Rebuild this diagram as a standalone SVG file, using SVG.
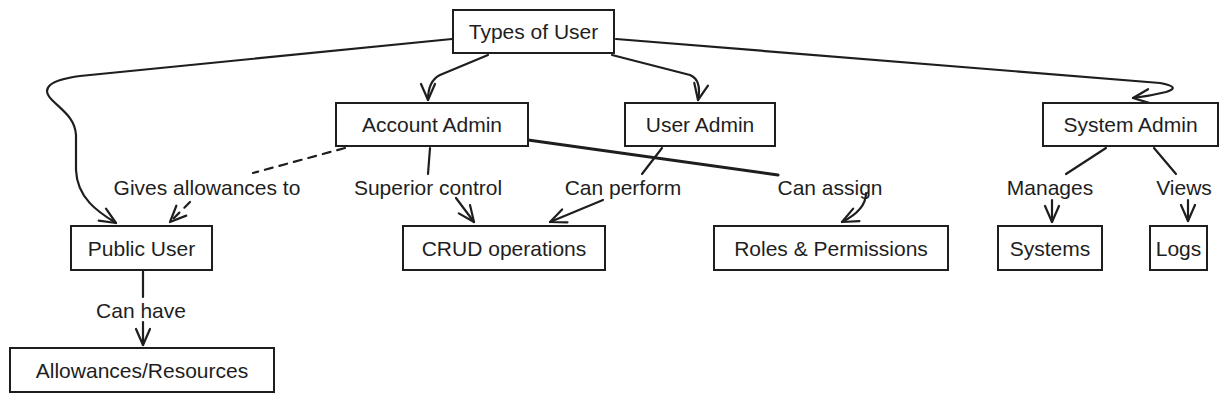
<svg xmlns="http://www.w3.org/2000/svg" width="1227" height="402" viewBox="0 0 1227 402">
<style>
.box{fill:#ffffff;stroke:#1e1e1e;stroke-width:2}
.t{font-family:"Liberation Sans",Arial,sans-serif;font-size:21px;fill:#1e1e1e;text-anchor:middle}
.c{fill:none;stroke:#1e1e1e;stroke-width:2.2;stroke-linecap:round;stroke-linejoin:round}
.d{stroke-dasharray:8 7}
</style>
<defs>
<marker id="ah" markerUnits="userSpaceOnUse" markerWidth="22" markerHeight="22" refX="18" refY="10" orient="auto" overflow="visible">
<path d="M2,3 L18,10 L2,17" fill="none" stroke="#1e1e1e" stroke-width="2.2" stroke-linecap="round" stroke-linejoin="round"/>
</marker>
</defs>
<rect width="1227" height="402" fill="#ffffff"/>
<g id="connectors">
<path class="c" d="M452,39 L80,76 C50,80 40,88 52,100 C62,110 75,118 76,135 L76,170 C77,198 98,212 116,223" marker-end="url(#ah)"/>
<path class="c" d="M488,55 L440,75 Q428,81 428,100" marker-end="url(#ah)"/>
<path class="c" d="M612,55 L690,75 Q702,80 698,100" marker-end="url(#ah)"/>
<path class="c" d="M616,39 L1160,83 Q1182,87 1166,92 Q1150,96 1133,98" marker-end="url(#ah)"/>
<path class="c d" d="M345,148 L253,173"/>
<path class="c d" d="M190,202 L170,222" marker-end="url(#ah)"/>
<path class="c" d="M430,148 L428,174"/>
<path class="c" d="M456,198 L474,222" marker-end="url(#ah)"/>
<path class="c" d="M662,148 L642,174"/>
<path class="c" d="M603,200 L550,222" marker-end="url(#ah)"/>
<path class="c" style="stroke-width:3" d="M528,140 L778,175"/>
<path class="c" d="M866,193 C866,205 856,215 842,222" marker-end="url(#ah)"/>
<path class="c" d="M1106,148 L1066,174"/>
<path class="c" d="M1052,200 L1052,222" marker-end="url(#ah)"/>
<path class="c" d="M1154,148 L1176,174"/>
<path class="c" d="M1188,200 L1188,221" marker-end="url(#ah)"/>
<path class="c" d="M143,271 L143,297"/>
<path class="c" d="M143,322 L143,345" marker-end="url(#ah)"/>
<text class="t" x="207" y="194.5">Gives allowances to</text>
<text class="t" x="428" y="194.5">Superior control</text>
<text class="t" x="623" y="194.5">Can perform</text>
<text class="t" x="830" y="194.5">Can assign</text>
<text class="t" x="1050" y="194.5">Manages</text>
<text class="t" x="1184" y="194.5">Views</text>
<text class="t" x="141" y="317.5">Can have</text>
</g>
<g id="types-of-user"><rect class="box" x="453" y="10" width="161" height="43"/><text class="t" x="533.5" y="39">Types of User</text></g>
<g id="account-admin"><rect class="box" x="336" y="103" width="192" height="43"/><text class="t" x="432" y="132">Account Admin</text></g>
<g id="user-admin"><rect class="box" x="625" y="103" width="150" height="43"/><text class="t" x="700" y="132">User Admin</text></g>
<g id="system-admin"><rect class="box" x="1043" y="103" width="175" height="43"/><text class="t" x="1130.5" y="132">System Admin</text></g>
<g id="public-user"><rect class="box" x="71" y="226" width="141" height="44"/><text class="t" x="141.5" y="255.5">Public User</text></g>
<g id="crud-operations"><rect class="box" x="403" y="226" width="202" height="44"/><text class="t" x="504" y="255.5">CRUD operations</text></g>
<g id="roles-permissions"><rect class="box" x="714" y="226" width="234" height="44"/><text class="t" x="831" y="255.5">Roles &amp; Permissions</text></g>
<g id="systems"><rect class="box" x="998" y="226" width="104" height="44"/><text class="t" x="1050" y="255.5">Systems</text></g>
<g id="logs"><rect class="box" x="1150" y="226" width="57" height="44"/><text class="t" x="1178.5" y="255.5">Logs</text></g>
<g id="allowances-resources"><rect class="box" x="10" y="348" width="264" height="44"/><text class="t" x="142" y="377.5">Allowances/Resources</text></g>
</svg>
